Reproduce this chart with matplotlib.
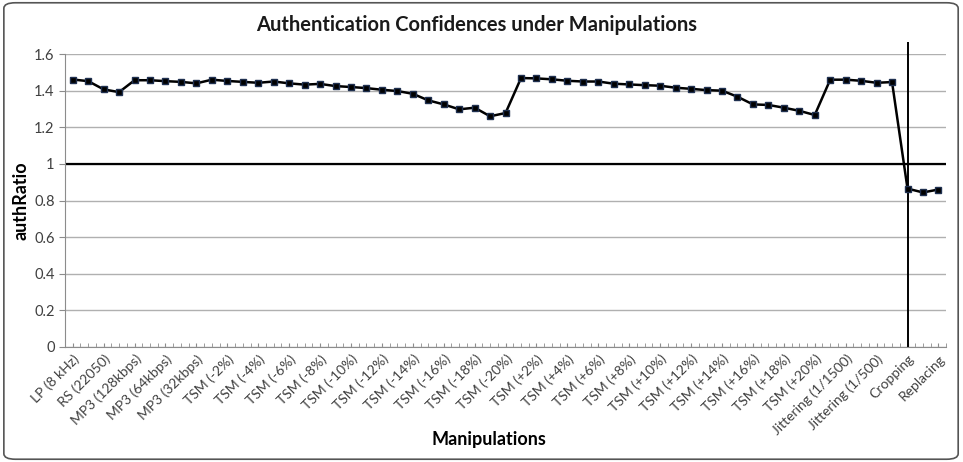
"""
Authentication confidences under manipulations
"""
import matplotlib
matplotlib.use("Agg")
import matplotlib.pyplot as plt
from matplotlib.patches import FancyBboxPatch
import numpy as np

plt.rcParams['font.family'] = ['Lato', 'DejaVu Sans']

# visible category labels (Excel shows every other category)
tick_labels = ["LP (8 kHz)", "RS (22050)", "MP3 (128kbps)", "MP3 (64kbps)", "MP3 (32kbps)",
               "TSM (-2%)", "TSM (-4%)", "TSM (-6%)", "TSM (-8%)", "TSM (-10%)",
               "TSM (-12%)", "TSM (-14%)", "TSM (-16%)", "TSM (-18%)", "TSM (-20%)",
               "TSM (+2%)", "TSM (+4%)", "TSM (+6%)", "TSM (+8%)", "TSM (+10%)",
               "TSM (+12%)", "TSM (+14%)", "TSM (+16%)", "TSM (+18%)", "TSM (+20%)",
               "Jittering (1/1500)", "Jittering (1/500)", "Cropping", "Replacing"]

auth_ratio = [1.461, 1.452, 1.407, 1.392, 1.457, 1.457, 1.452, 1.448, 1.440, 1.460,
              1.453, 1.448, 1.443, 1.450, 1.440, 1.433, 1.437, 1.425, 1.420, 1.414,
              1.405, 1.398, 1.383, 1.347, 1.325, 1.298, 1.307, 1.260, 1.278, 1.469,
              1.467, 1.462, 1.454, 1.450, 1.450, 1.438, 1.434, 1.430, 1.427, 1.416,
              1.410, 1.403, 1.400, 1.367, 1.325, 1.322, 1.307, 1.290, 1.267, 1.460,
              1.460, 1.454, 1.443, 1.447, 0.865, 0.844, 0.860]

threshold = 1.0
cropping_idx = 54

fig = plt.figure(figsize=(9.63, 4.62), dpi=100)
ax = fig.add_axes([0.0675, 0.249, 0.915, 0.634])

x = np.arange(len(auth_ratio))
ax.set_xlim(-0.5, len(auth_ratio) - 0.5)
ax.set_ylim(0, 1.6)

ax.set_yticks(np.arange(0, 1.61, 0.2))
ax.set_yticklabels(["0", "0.2", "0.4", "0.6", "0.8", "1", "1.2", "1.4", "1.6"])
ax.yaxis.grid(True, color='#b0b0b0', linewidth=1)
ax.set_axisbelow(True)

for s in ['top', 'right']:
    ax.spines[s].set_visible(False)
ax.spines['left'].set_color('#8c8c8c')
ax.spines['bottom'].set_color('#8c8c8c')

ax.set_xticks(x[::2])
ax.set_xticklabels(tick_labels, rotation=45, ha='right', va='top',
                   rotation_mode='anchor', fontsize=10, color='#404040')
ax.set_xticks(np.arange(-0.5, len(auth_ratio), 0.5), minor=True)
ax.tick_params(axis='x', which='both', direction='in', length=3, color='#8c8c8c', pad=4)
ax.tick_params(axis='y', length=4, color='#8c8c8c', labelsize=10.5, labelcolor='#404040')

ax.axhline(threshold, color='black', linewidth=1.6, zorder=2)
ax.vlines(cropping_idx, 0, 1.665, color='black', linewidth=1.4, clip_on=False, zorder=2)

ax.plot(x, auth_ratio, color='black', linewidth=1.8, marker='s', markersize=4.5,
        markerfacecolor='black', markeredgecolor='#1f3050', zorder=3)

fig.text(0.495, 0.945, "Authentication Confidences under Manipulations", fontsize=14.5,
         fontweight='bold', ha='center', va='center', color='#1a1a1a')
ax.set_ylabel("authRatio", fontsize=13, fontweight='bold', labelpad=3)
fig.text(0.508, 0.037, "Manipulations", fontsize=13, fontweight='bold', ha='center')

border = FancyBboxPatch((0.004, 0.006), 0.991, 0.988, boxstyle="round,pad=0,rounding_size=0.012",
                        transform=fig.transFigure, fill=False, edgecolor='#555555', linewidth=1.2)
fig.patches.append(border)

fig.savefig("out.png", dpi=100)
